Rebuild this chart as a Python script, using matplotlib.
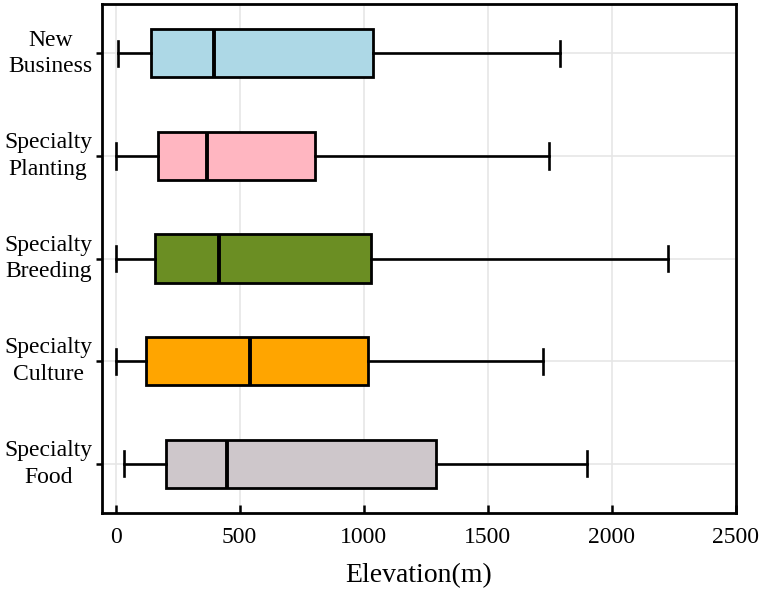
import matplotlib
matplotlib.use("Agg")
import matplotlib.pyplot as plt

plt.rcParams["font.family"] = ["Liberation Serif", "DejaVu Serif"]

# categories top -> bottom
labels = ["New\nBusiness", "Specialty\nPlanting", "Specialty\nBreeding",
          "Specialty\nCulture", "Specialty\nFood"]
whislo = [11, 0, 0, 0, 34]
q1 = [142, 169, 158, 123, 203]
med = [398, 367, 417, 540, 447]
q3 = [1039, 805, 1031, 1019, 1290]
whishi = [1793, 1745, 2226, 1724, 1901]
colors = ["#ADD8E6", "#FFB6C1", "#6B8E23", "#FFA500", "#CEC7CB"]

stats = [dict(label=l, whislo=a, q1=b, med=c, q3=d, whishi=e, fliers=[])
         for l, a, b, c, d, e in zip(labels, whislo, q1, med, q3, whishi)]

fig = plt.figure(figsize=(7.61, 5.90), dpi=100)
ax = fig.add_axes([0.134, 0.1305, 0.833, 0.8625])

n = len(stats)
pos = list(range(n - 1, -1, -1))
bp = ax.bxp(stats, positions=pos, orientation="horizontal", widths=0.47,
            patch_artist=True, showfliers=False,
            boxprops=dict(linewidth=2.0, edgecolor="black"),
            medianprops=dict(color="black", linewidth=2.8),
            whiskerprops=dict(color="black", linewidth=1.9),
            capprops=dict(color="black", linewidth=1.9),
            capwidths=0.245, zorder=3)
for box, col in zip(bp["boxes"], colors):
    box.set_facecolor(col)

ax.set_xlim(-55, 2500)
ax.set_ylim(-0.48, n - 0.52)
ax.set_xticks([0, 500, 1000, 1500, 2000, 2500])
ax.grid(True, color="#e6e6e6", linewidth=1.2, zorder=0)
ax.set_axisbelow(True)

ax.set_yticks(pos)
ax.set_yticklabels(labels, multialignment="center", fontsize=17,
                   linespacing=1.35, va="center")
ax.tick_params(axis="y", direction="out", length=4, width=1.8, pad=3)
ax.tick_params(axis="x", direction="in", length=6, width=1.8, labelsize=17, pad=10)
for s in ax.spines.values():
    s.set_linewidth(2.0)
    s.set_color("black")

ax.set_xlabel("Elevation(m)", fontsize=20, labelpad=11)

fig.savefig("out.png", dpi=100, facecolor="white")
